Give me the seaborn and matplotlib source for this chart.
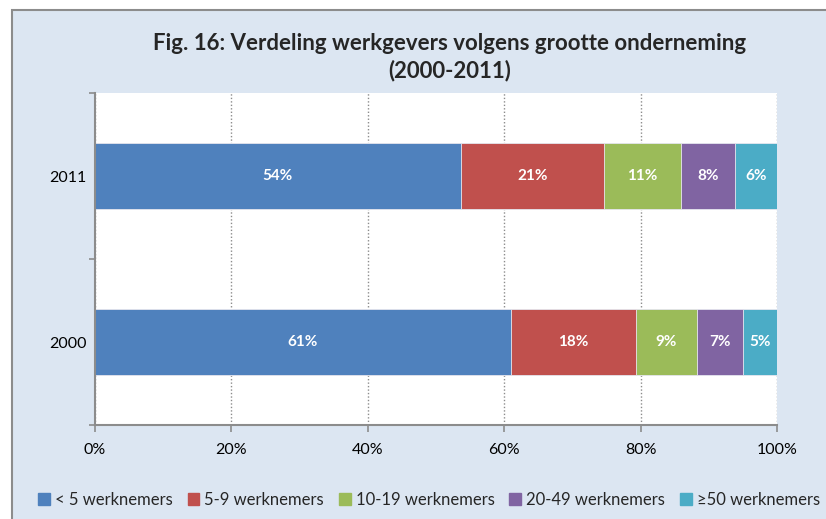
import pandas as pd
import matplotlib.pyplot as plt
import matplotlib.patches as mpatches
from matplotlib.ticker import FixedLocator, PercentFormatter
import seaborn as sns

# data (percentages)
years = ["2011", "2000"]
groups = ["< 5 werknemers", "5-9 werknemers", "10-19 werknemers", "20-49 werknemers", "\u226550 werknemers"]
share_2011 = [53.6, 21.0, 11.3, 7.9, 6.2]
share_2000 = [61.0, 18.3, 9.0, 6.7, 5.0]
colors = ["#4F81BD", "#C0504D", "#9BBB59", "#8064A2", "#4BACC6"]

df = pd.DataFrame({"2011": share_2011, "2000": share_2000}, index=groups).T
cum = df.cumsum(axis=1)

sns.set_theme(style="white")
plt.rcParams["font.family"] = ["Lato", "DejaVu Sans"]

fig = plt.figure(figsize=(8.26, 5.19), dpi=100)
fig.patch.set_facecolor("white")
# chart area background with border
fig.patches.append(mpatches.Rectangle((12 / 826, -0.1), 1.2, 1 - 10 / 519 + 0.1,
                                      transform=fig.transFigure, facecolor="#DCE6F2",
                                      edgecolor="#8C8C8C", linewidth=1.5, zorder=-10))

ax = fig.add_axes([95 / 826, 1 - 425 / 519, (777 - 95) / 826, (425 - 93) / 519])
ax.set_facecolor("white")

# stacked bars: draw cumulative totals from the last group down to the first
for g, c in reversed(list(zip(groups, colors))):
    sns.barplot(x=cum[g].values, y=years, order=years, orient="h", color=c,
                width=0.395, edgecolor="#E8E8F0", linewidth=0.6, ax=ax, saturation=1)

for i, yr in enumerate(years):
    for g in groups:
        v = df.loc[yr, g]
        ax.text(cum.loc[yr, g] - v / 2, i, f"{v:.0f}%", ha="center", va="center",
                color="white", fontsize=11, fontweight="bold")

ax.set_xlim(0, 100)
ax.set_ylim(1.5, -0.5)
ax.xaxis.set_major_locator(FixedLocator([0, 20, 40, 60, 80, 100]))
ax.xaxis.set_major_formatter(PercentFormatter(decimals=0))
ax.grid(axis="x", color="#8C8C8C", linestyle=(0, (1, 1.5)), linewidth=1)
ax.set_axisbelow(True)
ax.tick_params(axis="x", length=5, width=1.2, color="#8C8C8C", direction="out",
               bottom=True, labelsize=11.5, pad=8, labelcolor="black")
ax.tick_params(axis="y", which="major", length=0, labelsize=11.5, pad=6, labelcolor="black")
ax.yaxis.set_minor_locator(FixedLocator([-0.5, 0.5, 1.5]))
ax.tick_params(axis="y", which="minor", left=True, length=4, width=1.2, color="#8C8C8C")
ax.set_xlabel("")
ax.set_ylabel("")
for s in ["top", "right"]:
    ax.spines[s].set_visible(False)
for s in ["left", "bottom"]:
    ax.spines[s].set_color("#8C8C8C")
    ax.spines[s].set_linewidth(1.5)

fig.text(450 / 826, 1 - 57 / 519, "Fig. 16: Verdeling werkgevers volgens grootte onderneming\n(2000-2011)",
         ha="center", va="center", fontsize=16, fontweight="bold", linespacing=1.3)

handles = [mpatches.Patch(color=c, label=g) for g, c in zip(groups, colors)]
fig.legend(handles=handles, loc="center", bbox_to_anchor=(429 / 826, 1 - 500 / 519), ncol=5,
           frameon=False, fontsize=12, handlelength=0.7, handleheight=0.7,
           handletextpad=0.3, columnspacing=0.9)

fig.savefig("out.png", dpi=100)
